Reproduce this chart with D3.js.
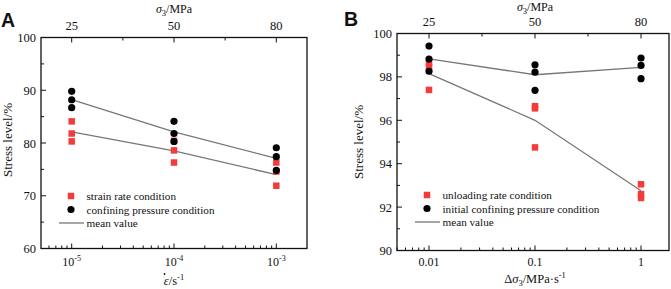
<!DOCTYPE html>
<html lang='en'>
<head>
<meta charset='utf-8'>
<title>Stress level</title>
<script src='https://cdn.jsdelivr.net/npm/d3@7'></script>
<style>
  body { margin: 0; background: #fff; }
</style>
</head>
<body>
<script>
// ---- panel A data ----
var aRates = [1e-5, 1e-4, 1e-3];
var aPressure = ['25', '50', '80'];
var aStrainRate = [[84.1, 81.8, 80.3], [80.4, 78.6, 76.3], [76.3, 74.6, 71.9]];
var aConfining = [[89.8, 88.2, 86.7], [84.1, 81.8, 80.3], [79.1, 77.4, 74.8]];
var aStrainMean = [82.1, 78.5, 74.0];
var aConfMean = [88.2, 82.1, 77.1];
var aYTicks = [60, 70, 80, 90, 100];
var aLegend = ['strain rate condition', 'confining pressure condition', 'mean value'];

// ---- panel B data ----
var bRates = [0.01, 0.1, 1];
var bPressure = ['25', '50', '80'];
var bUnloading = [[98.65, 98.45, 97.4], [96.65, 96.55, 94.75], [93.05, 92.6, 92.42]];
var bInitial = [[99.42, 98.82, 98.26], [98.56, 98.22, 97.38], [98.87, 98.53, 97.92]];
var bUnloadMean = [98.15, 96.0, 92.75];
var bInitialMean = [98.83, 98.1, 98.44];
var bYTicks = [90, 92, 94, 96, 98, 100];
var bLegend = ['unloading rate condition', 'initial confining pressure condition', 'mean value'];

var RED = '#f23b3b', LINE = '#777';
var SERIF = "'Liberation Serif', 'DejaVu Serif', serif";

var svg = d3.select('body').append('svg').attr('width', 671).attr('height', 289)
  .attr('font-family', SERIF).attr('fill', '#111');

function panel(cfg) {
  var x = d3.scaleLog().domain(cfg.xDomain).range([cfg.left, cfg.right]);
  var y = d3.scaleLinear().domain(cfg.yDomain).range([cfg.bottom, cfg.top]);
  var g = svg.append('g');

  // frame
  g.append('rect').attr('x', cfg.left).attr('y', cfg.top)
    .attr('width', cfg.right - cfg.left).attr('height', cfg.bottom - cfg.top)
    .attr('fill', 'none').attr('stroke', '#111').attr('stroke-width', 1.3);

  // y ticks (inward)
  var yMinor = d3.range(cfg.yDomain[0], cfg.yDomain[1], cfg.yStep / 2).filter(function(v){ return cfg.yTicks.indexOf(v) < 0; });
  g.selectAll('.ymaj').data(cfg.yTicks).enter().append('line')
    .attr('x1', cfg.left).attr('x2', cfg.left + 5)
    .attr('y1', d => y(d)).attr('y2', d => y(d)).attr('stroke', '#111');
  g.selectAll('.ymin').data(yMinor).enter().append('line')
    .attr('x1', cfg.left).attr('x2', cfg.left + 3)
    .attr('y1', d => y(d)).attr('y2', d => y(d)).attr('stroke', '#111');
  g.selectAll('.ylab').data(cfg.yTicks).enter().append('text')
    .attr('x', cfg.left - 5).attr('y', d => y(d) + 4.5)
    .attr('text-anchor', 'end').attr('font-size', 12.5).text(d => d);

  // bottom log ticks
  var lo = Math.floor(Math.log10(cfg.xDomain[0])), hi = Math.ceil(Math.log10(cfg.xDomain[1]));
  var minor = [];
  for (var e = lo; e <= hi; e++) for (var m = 2; m <= 9; m++) {
    var v = m * Math.pow(10, e);
    if (v >= cfg.xDomain[0] && v <= cfg.xDomain[1]) minor.push(v);
  }
  g.selectAll('.xmin').data(minor).enter().append('line')
    .attr('x1', d => x(d)).attr('x2', d => x(d))
    .attr('y1', cfg.bottom).attr('y2', cfg.bottom - 3).attr('stroke', '#111');
  g.selectAll('.xmaj').data(cfg.rates).enter().append('line')
    .attr('x1', d => x(d)).attr('x2', d => x(d))
    .attr('y1', cfg.bottom).attr('y2', cfg.bottom - 5).attr('stroke', '#111');
  cfg.rates.forEach(function(r, i) {
    var t = g.append('text').attr('x', x(r)).attr('y', 266)
      .attr('text-anchor', 'middle').attr('font-size', 12);
    cfg.rateLabel(t, r, i);
  });

  // top axis
  var topTicks = [];
  cfg.rates.forEach(function(r, i) {
    topTicks.push(r);
    if (i < cfg.rates.length - 1) topTicks.push(Math.sqrt(r * cfg.rates[i + 1]));
  });
  g.selectAll('.xtop').data(topTicks).enter().append('line')
    .attr('x1', d => x(d)).attr('x2', d => x(d))
    .attr('y1', cfg.top).attr('y2', (d, i) => cfg.top + (i % 2 ? 3 : 5)).attr('stroke', '#111');
  g.selectAll('.toplab').data(cfg.rates).enter().append('text')
    .attr('x', d => x(d)).attr('y', cfg.top - 8)
    .attr('text-anchor', 'middle').attr('font-size', 12.5).text((d, i) => cfg.pressure[i]);
  var tt = g.append('text').attr('x', x(cfg.rates[1])).attr('y', cfg.titleTopY)
    .attr('text-anchor', 'middle').attr('font-size', 12);
  tt.append('tspan').attr('font-style', 'italic').text('σ');
  tt.append('tspan').attr('font-size', 8.5).attr('dy', 3).text('3');
  tt.append('tspan').attr('dy', -3).text('/MPa');

  // axis titles
  g.append('text').attr('transform', 'translate(' + cfg.yLabelX + ',' + cfg.yLabelY + ') rotate(-90)')
    .attr('text-anchor', 'middle').attr('font-size', 13).text('Stress level/%');
  cfg.xTitle(g, (x(cfg.rates[1])), cfg.xTitleY);

  // panel letter
  g.append('text').attr('x', cfg.letterX).attr('y', cfg.letterY)
    .attr('font-family', "'Liberation Sans', Arial, sans-serif").attr('font-weight', 'bold')
    .attr('font-size', 19.5).text(cfg.letter);

  // mean lines
  var line = d3.line().x((d, i) => x(cfg.rates[i])).y(d => y(d));
  [cfg.meanA, cfg.meanB].forEach(function(m) {
    g.append('path').attr('d', line(m)).attr('fill', 'none').attr('stroke', LINE).attr('stroke-width', 1.3);
  });

  // points: squares first, circles on top
  cfg.squares.forEach(function(vals, i) {
    g.selectAll(null).data(vals).enter().append('rect')
      .attr('x', x(cfg.rates[i]) - 3.25).attr('y', d => y(d) - 3.25)
      .attr('width', 6.5).attr('height', 6.5).attr('fill', RED);
  });
  cfg.circles.forEach(function(vals, i) {
    g.selectAll(null).data(vals).enter().append('circle')
      .attr('cx', x(cfg.rates[i])).attr('cy', d => y(d)).attr('r', 3.6).attr('fill', '#000');
  });

  // legend
  var lx = cfg.legendX, ly = cfg.legendY;
  g.append('rect').attr('x', lx - 3.25).attr('y', ly - 3.25).attr('width', 6.5).attr('height', 6.5).attr('fill', RED);
  g.append('circle').attr('cx', lx).attr('cy', ly + 13.5).attr('r', 3.6).attr('fill', '#000');
  g.append('line').attr('x1', lx - 12).attr('x2', lx + 13).attr('y1', ly + 27).attr('y2', ly + 27)
    .attr('stroke', LINE).attr('stroke-width', 1.3);
  cfg.legend.forEach(function(s, i) {
    g.append('text').attr('x', lx + 15.5).attr('y', ly + 4 + i * 13.5).attr('font-size', 11.2).text(s);
  });
}

function powLabel(t, r) {
  var e = Math.round(Math.log10(r));
  t.append('tspan').text('10');
  t.append('tspan').attr('font-size', 8).attr('dy', -5).text(String(e));
}

panel({
  letter: 'A', letterX: 1, letterY: 27,
  left: 41, right: 307, top: 37.5, bottom: 248.5, titleTopY: 13,
  xDomain: [Math.pow(10, -5.3), Math.pow(10, -2.7)], yDomain: [60, 100], yStep: 10,
  rates: aRates, pressure: aPressure, yTicks: aYTicks,
  squares: aStrainRate, circles: aConfining, meanA: aStrainMean, meanB: aConfMean,
  legend: aLegend, legendX: 71, legendY: 196, yLabelX: 12, yLabelY: 140, xTitleY: 285,
  rateLabel: powLabel,
  xTitle: function(g, cx, cy) {
    var t = g.append('text').attr('x', cx).attr('y', cy).attr('text-anchor', 'middle').attr('font-size', 12.5);
    t.append('tspan').attr('font-style', 'italic').text('ε');
    t.append('tspan').text('/s');
    t.append('tspan').attr('font-size', 8.5).attr('dy', -5).text('-1');
    // dot above epsilon
    g.append('circle').attr('cx', cx - 9.5).attr('cy', cy - 11).attr('r', 0.9).attr('fill', '#111');
  }
});

panel({
  letter: 'B', letterX: 344, letterY: 26,
  left: 397, right: 669, top: 33.5, bottom: 250.5, titleTopY: 11,
  xDomain: [Math.pow(10, -2.302), Math.pow(10, 0.264)], yDomain: [90, 100], yStep: 2,
  rates: bRates, pressure: bPressure, yTicks: bYTicks,
  squares: bUnloading, circles: bInitial, meanA: bUnloadMean, meanB: bInitialMean,
  legend: bLegend, legendX: 427, legendY: 195, yLabelX: 363, yLabelY: 142, xTitleY: 283,
  rateLabel: function(t, r) { t.text(String(r)); },
  xTitle: function(g, cx, cy) {
    var t = g.append('text').attr('x', cx).attr('y', cy).attr('text-anchor', 'middle').attr('font-size', 12.5);
    t.append('tspan').text('Δ');
    t.append('tspan').attr('font-style', 'italic').text('σ');
    t.append('tspan').attr('font-size', 8.5).attr('dy', 3).text('3');
    t.append('tspan').attr('dy', -3).text('/MPa·s');
    t.append('tspan').attr('font-size', 8.5).attr('dy', -5).text('-1');
  }
});
</script>
</body>
</html>
